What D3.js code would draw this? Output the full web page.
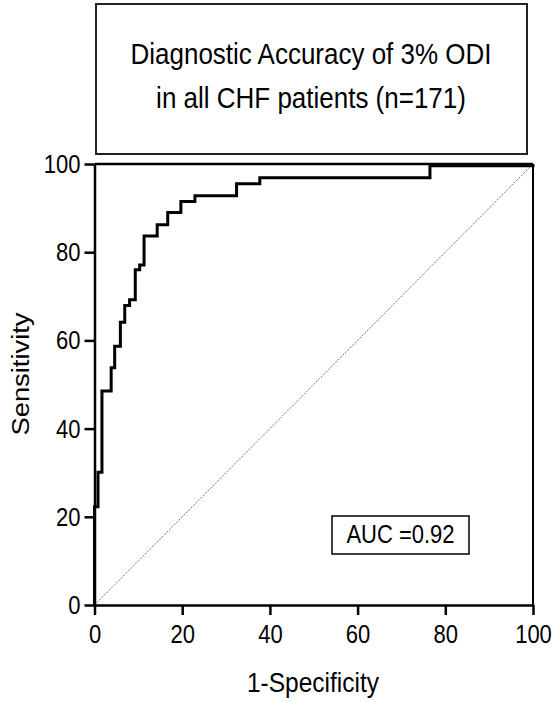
<!DOCTYPE html>
<html><head><meta charset="utf-8">
<script src="https://cdn.jsdelivr.net/npm/d3@7"></script>
<style>body{margin:0;background:#fff}svg{display:block}text{font-family:"Liberation Sans",Arial,sans-serif;fill:#000}</style>
</head><body>
<svg id="c" width="560" height="702"></svg>
<script>
const titleLines = ["Diagnostic Accuracy of 3% ODI", "in all CHF patients (n=171)"];
const xTicks = [0, 20, 40, 60, 80, 100];
const yTicks = [0, 20, 40, 60, 80, 100];
const xLabel = "1-Specificity";
const yLabel = "Sensitivity";
const aucLabel = "AUC =0.92";
// ROC points: 1-specificity (%) and sensitivity (%)
const fpr  = [0, 0,    0.8,  1.7,  3.8,  4.6,  5.9,  6.9,  8.0,  9.3,  10.3, 11.3, 14.3, 16.7, 19.7, 22.9, 32.4, 37.7, 75.8, 76.5, 100];
const sens = [0, 22.3, 30.1, 48.5, 53.8, 58.7, 64.1, 67.9, 69.2, 76.0, 77.1, 83.7, 86.2, 89.0, 91.5, 92.8, 95.5, 96.9, 96.9, 99.6, 100];
const refLine = [0, 100];

const svg = d3.select("#c");
const x = d3.scaleLinear().domain([0, 100]).range([94.5, 533]);
const y = d3.scaleLinear().domain([0, 100]).range([605, 164]);
const VS = 1.14;

// title box
svg.append("rect").attr("x", 96).attr("y", 4).attr("width", 431).attr("height", 150)
  .attr("fill", "none").attr("stroke", "#222").attr("stroke-width", 2);
titleLines.forEach((t, i) => {
  svg.append("text").attr("transform", `translate(311,${64 + i * 44}) scale(1,${VS})`)
    .attr("text-anchor", "middle").attr("font-size", 26).text(t);
});

// frame
svg.append("line").attr("x1", x(0)).attr("x2", x(100)).attr("y1", y(100)).attr("y2", y(100))
  .attr("stroke", "#000").attr("stroke-width", 2.5);
svg.append("line").attr("x1", x(100)).attr("x2", x(100)).attr("y1", y(0)).attr("y2", y(100))
  .attr("stroke", "#000").attr("stroke-width", 2);

// diagonal reference
svg.append("line").attr("x1", x(refLine[0])).attr("y1", y(refLine[0]))
  .attr("x2", x(refLine[1])).attr("y2", y(refLine[1]))
  .attr("stroke", "#555").attr("stroke-width", 1).attr("stroke-dasharray", "1.2,1.2");

// axes
const xAxis = svg.append("g").attr("transform", `translate(0,${y(0)})`)
  .call(d3.axisBottom(x).tickValues(xTicks).tickSize(10).tickPadding(4).tickSizeOuter(0));
const yAxis = svg.append("g").attr("transform", `translate(${x(0)},0)`)
  .call(d3.axisLeft(y).tickValues(yTicks).tickSize(10).tickPadding(4).tickSizeOuter(0));
[xAxis, yAxis].forEach(g => {
  g.select(".domain").attr("stroke", "#000").attr("stroke-width", 2.5);
  g.selectAll(".tick line").attr("stroke", "#000").attr("stroke-width", 2.5);
  g.selectAll(".tick text").attr("font-size", 22).attr("fill", "#000")
    .attr("font-family", '"Liberation Sans",Arial,sans-serif');
});
xAxis.selectAll(".tick text").attr("dy", null).attr("y", 0)
  .attr("transform", `translate(0,38) scale(1,${VS})`);
yAxis.selectAll(".tick text").attr("dy", null).attr("x", 0)
  .attr("transform", `translate(-14,8.5) scale(1,${VS})`);

// ROC curve
const pts = fpr.map((f, i) => [f, sens[i]]);
svg.append("path").datum(pts)
  .attr("d", d3.line().x(d => x(d[0])).y(d => y(d[1])).curve(d3.curveStepAfter))
  .attr("fill", "none").attr("stroke", "#000").attr("stroke-width", 3).attr("stroke-linejoin", "miter");

// axis titles
svg.append("text").attr("transform", `translate(313,692) scale(1,${VS})`)
  .attr("text-anchor", "middle").attr("font-size", 24.5).text(xLabel);
svg.append("text").attr("transform", `translate(29,374) rotate(-90) scale(${VS},1)`)
  .attr("text-anchor", "middle").attr("font-size", 24).text(yLabel);

// AUC box
svg.append("rect").attr("x", 332).attr("y", 516).attr("width", 137).attr("height", 38)
  .attr("fill", "#fff").attr("stroke", "#000").attr("stroke-width", 1.5);
svg.append("text").attr("transform", `translate(400.5,543) scale(1,${VS})`)
  .attr("text-anchor", "middle").attr("font-size", 22).text(aucLabel);
</script>
</body></html>
